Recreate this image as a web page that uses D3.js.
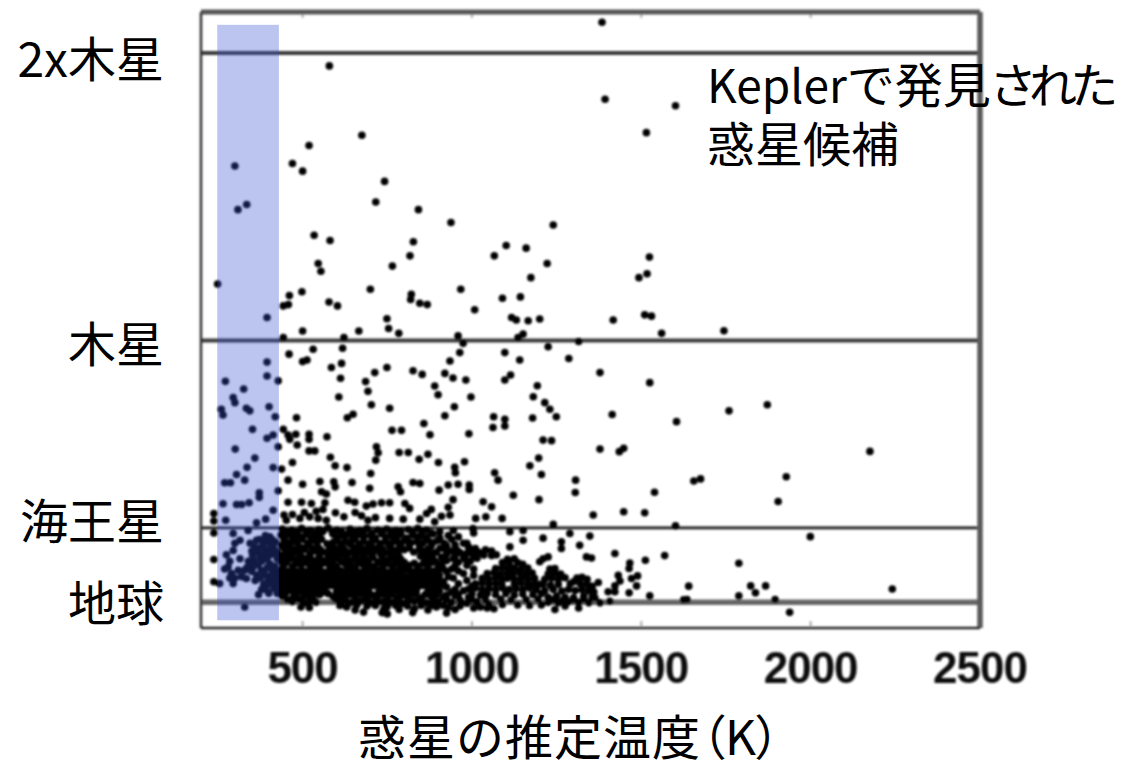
<!DOCTYPE html>
<html>
<head>
<meta charset="utf-8">
<script src="https://cdnjs.cloudflare.com/ajax/libs/d3/7.8.5/d3.min.js"></script>
<style>
html, body {margin: 0; padding: 0; background: #fff;}
svg {display: block;}
.jp {font-family: "Noto Sans CJK JP", sans-serif; font-size: 48px; fill: #000;}
.palt {font-feature-settings: "palt";}
.tick-label {font-family: "Liberation Sans", sans-serif; font-weight: bold; font-size: 44px; letter-spacing: -1px; fill: #111;}
</style>
</head>
<body>
<script>
// x = planet temperature (K), y = planet radius (earth radii)
let xTicks = [500, 1000, 1500, 2000, 2500];
let refLines = [
	{name: "2x木星", r: 22.4, width: 4, color: "#3a3a3a"},
	{name: "木星", r: 11.2, width: 4, color: "#3a3a3a"},
	{name: "海王星", r: 3.9, width: 2.8, color: "#1a1a1a"},
	{name: "地球", r: 1, width: 5.5, color: "#666"}
];
let zoneTemps = [248, 430];
let zoneRadii = [0.3, 23.5];

// the sparse points, read one by one
let sparsePoints = [[579,21.9],[675,19.2],[519,18.8],[470,18.1],[500,17.8],[300,18.0],[335,16.5],[309,16.3],[742,17.4],[716,16.6],[842,16.3],[938,15.8],[1240,15.7],[534,15.3],[581,15.1],[827,15.05],[1101,14.9],[1160,14.8],[1066,14.5],[817,14.5],[765,14.1],[1222,14.2],[546,14.2],[554,13.9],[1174,13.65],[249,13.4],[700,13.2],[967,13.2],[498,13.1],[461,12.95],[821,13.0],[819,12.8],[578,12.7],[603,12.55],[458,12.6],[443,12.55],[846,12.65],[868,12.6],[1090,12.85],[1143,12.9],[1008,12.4],[395,12.1],[749,12.05],[1117,12.1],[1131,12.0],[1166,11.97],[1200,12.04],
	[1384,23.6],[1393,20.6],[1601,20.35],[1515,19.3],[1524,14.45],[1517,13.8],[1493,13.65],[1510,12.2],[1530,12.15],[1417,12.0],
	[1560,11.48],[1744,11.58],[1378,9.95],[1525,9.56],[1414,8.32],[1604,8.04],[1759,8.46],[1872,8.7],[1378,6.97],[1435,6.87],[1448,7.0],[2175,6.88],[1655,5.73],[1675,5.81],[1928,5.89],[1904,4.93],[1539,5.29],[1358,4.4],[1448,4.53],[1510,4.49],[1601,3.98],[1999,3.56],[1348,3.58],[1422,2.9],[1353,2.73],[1512,2.64],[1569,2.82],[1788,2.52],[1466,2.53],[1464,2.32],[1489,2.03],[1471,1.93],[1432,2.05],[1437,1.83],[1373,1.77],[1422,1.64],[1486,1.64],[1640,1.63],[1823,1.64],[1867,1.64],[2241,1.52],[1402,1.41],[1422,1.41],[1464,1.37],[1837,1.37],[1525,1.25],[1788,1.25],[1635,1.11],[1625,1.1],[1895,1.11],[1363,1.18],[1378,0.98],[1407,1.04],[1938,0.61]];

// middle part, between jupiter and the neptune band
let middlePoints = [[500,11.57],[666,11.57],[754,11.67],[784,11.48],[443,11.32],[622,11.32],[959,11.38],[974,11.09],[1151,11.45],[1136,11.32],[1315,11.16],[618,10.9],[531,10.86],[460,10.67],[1225,10.96],[964,10.73],[1097,10.73],[395,10.36],[513,10.44],[500,10.38],[615,10.31],[585,10.15],[1141,10.44],[1286,10.5],[935,10.4],[749,10.15],[713,9.95],[826,10.02],[853,9.88],[920,9.92],[944,9.74],[982,9.66],[395,9.82],[428,9.63],[612,9.73],[1114,9.86],[1097,9.66],[272,9.61],[686,9.6],[890,9.43],[1193,9.44],[326,9.31],[693,9.22],[900,9.09],[295,8.98],[300,8.78],[607,9.0],[997,9.0],[1181,9.01],[703,8.7],[1215,8.78],[401,8.62],[948,8.62],[757,8.56],[1230,8.52],[260,8.52],[265,8.3],[334,8.56],[344,8.46],[419,8.23],[482,8.19],[920,8.27],[649,8.33],[632,8.19],[1249,8.23],[1179,8.18],[1064,8.23],[1097,8.13],[1097,7.87],[1062,7.81],[858,7.97],[352,7.74],[443,7.74],[764,7.7],[792,7.7],[457,7.52],[480,7.55],[519,7.55],[519,7.35],[572,7.45],[876,7.53],[991,7.57],[413,7.52],[395,7.39],[1210,7.32],[1235,7.3],[462,7.35],[484,7.13],[428,7.06],[301,6.97],[718,7.06],[723,6.83],[519,6.9],[536,6.9],[785,6.84],[812,6.84],[870,6.77],[716,6.54],[359,6.62],[582,6.65],[844,6.57],[1197,6.62],[470,6.45],[901,6.45],[978,6.48],[596,6.32],[631,6.25],[949,6.26],[336,6.26],[413,6.25],[438,6.19],[1171,6.32],[951,6.05],[1067,6.05],[701,6.02],[305,5.98],[1205,5.98],[329,5.76],[457,5.76],[1077,5.76],[1306,5.76],[270,5.66],[287,5.66],[500,5.6],[551,5.71],[592,5.7],[596,5.5],[646,5.67],[826,5.67],[846,5.63],[930,5.57],[959,5.6],[992,5.57],[992,5.4],[782,5.5],[698,5.44],[789,5.31],[903,5.37],[428,5.35],[372,5.27],[372,5.09],[556,5.31],[570,5.22],[1305,5.28],[1122,5.17],[944,5.0],[1198,5.0],[457,4.9],[497,4.9],[265,4.84],[305,4.81],[320,4.81],[342,4.88],[526,4.85],[566,4.88],[634,4.98],[654,4.9],[688,4.75],[708,4.83],[733,4.88],[757,4.88],[802,4.85],[1033,4.92],[1058,4.72],[816,4.66],[930,4.7],[413,4.59],[238,4.46],[880,4.62],[866,4.46],[597,4.49],[935,4.4],[846,4.24],[757,4.27],[797,4.24],[674,4.37],[693,4.2],[622,4.33],[1011,4.27],[1041,4.33],[1089,4.27],[273,4.2],[391,4.24],[238,4.17],[364,4.1],[452,4.2],[492,4.27],[521,4.33],[546,4.27],[570,4.2],[890,4.14],[1240,4.04],[445,4.4],[470,4.42],[505,4.5],[540,4.55],[560,4.62],[655,4.5],[715,4.3],[910,4.35]];

// inside the blue habitable zone, low radii
let zonePoints = [[238,3.7],[295,3.68],[315,3.42],[339,3.8],[364,3.42],[393,3.5],[379,3.15],[295,3.02],[315,2.7],[238,2.67],[354,2.7],[369,2.45],[388,2.9],[403,2.5],[280,2.38],[290,2.12],[329,2.25],[334,1.93],[238,1.8],[255,1.73],[295,1.73],[379,1.5],[403,1.73],[329,0.82],[413,2.1],[388,2.1],[359,3.15],[408,3.15],[403,3.55],[413,2.9],[418,2.4],[425,2.95],[420,3.35],[385,3.3],[350,2.2],[365,2.05],[398,1.9],[420,1.8],[428,1.6],[350,3.0],[375,2.75],[398,3.35],[270,2.3],[285,1.95],[345,2.5],[410,2.25],
	[345,3.3],[360,3.0],[372,3.45],[390,3.6],[410,3.45],[352,2.85],[368,2.95],[395,3.05],[415,3.1],[340,2.6],[358,2.55],[380,2.6],[395,2.7],[425,2.7],[405,2.85],[335,2.35],[352,2.35],[378,2.25],[395,2.35],[425,2.15],[360,1.85],[375,1.95],[405,2.0],[425,1.95],[385,1.7],[415,1.55],[392,1.5],[370,1.3],[400,1.35],[425,1.35],[300,3.3],[275,2.85],[285,2.6],[310,2.25],[320,2.0],[300,1.95]];

// the black blob, too dense to read each dot, so an estimate row by row
let denseUpper = [[440,3.86],[468,3.82],[497,3.88],[522,3.8],[548,3.84],[575,3.9],[601,3.82],[640,3.86],[668,3.8],[690,3.88],[722,3.82],[748,3.86],[775,3.8],[812,3.84],[840,3.88],[866,3.82],[905,3.75],[945,3.8],
	[436,3.62],[455,3.68],[482,3.6],[512,3.65],[540,3.6],[590,3.65],[612,3.6],[635,3.68],[662,3.62],[700,3.6],[733,3.66],[760,3.6],[790,3.65],[825,3.62],[850,3.58],[885,3.66],[930,3.6],[960,3.55],[1005,3.7],
	[445,3.42],[470,3.38],[500,3.45],[530,3.4],[556,3.46],[600,3.4],[628,3.35],[655,3.44],[680,3.38],[712,3.42],[745,3.36],[778,3.45],[800,3.4],[838,3.36],[870,3.42],[898,3.4],[918,3.3],[975,3.3],
	[438,3.2],[462,3.25],[488,3.18],[518,3.22],[545,3.15],[585,3.2],[615,3.16],[642,3.24],[670,3.18],[695,3.22],[725,3.15],[755,3.2],[790,3.18],[815,3.24],[845,3.16],[880,3.2],[905,3.1],[955,3.05],[990,3.15],[1010,3.1],
	[450,3.02],[478,2.98],[505,3.05],[535,3.0],[560,2.96],[578,3.05],[605,3.0],[632,2.96],[665,3.04],[690,2.98],[718,3.02],[742,2.95],[770,3.0],[800,3.05],[828,2.96],[860,3.0],[895,2.95],[940,3.0],[985,2.9],[1020,2.95],[1040,3.05],[1058,3.0],[1072,2.85],[1058,2.82],
	[440,2.82],[465,2.78],[492,2.85],[520,2.8],[548,2.76],[575,2.84],[602,2.8],[630,2.76],[655,2.84],[680,2.8],[705,2.85],[735,2.78],[760,2.82],[785,2.76],[848,2.8],[875,2.84],[910,2.76],[950,2.8],[975,2.78],[1005,2.8],
	[1112,3.16],[1151,3.42],[1210,3.5],[1264,3.36],[1264,3.1],[1318,3.22],[1338,2.77],[1112,3.75],[1151,3.8],[1003,3.87],[1289,3.68],[1210,2.7],[1225,2.77],[1200,2.58]];

// second pass over the band, leaves the white holes of the picture open
let bandGaps = [[452,3.74],[485,3.72],[510,3.77],[535,3.7],[560,3.76],[588,3.72],[615,3.75],[655,3.72],[680,3.76],[705,3.7],[735,3.75],[762,3.72],[790,3.77],[825,3.72],[852,3.74],[880,3.7],
	[448,3.52],[470,3.56],[498,3.54],[525,3.5],[550,3.56],[602,3.52],[625,3.55],[648,3.52],[680,3.56],[715,3.5],[745,3.54],[775,3.56],[808,3.5],[838,3.55],[865,3.52],[905,3.5],[940,3.46],
	[455,3.3],[482,3.34],[515,3.3],[543,3.33],[572,3.28],[590,3.34],[612,3.3],[640,3.33],[668,3.28],[700,3.32],[730,3.3],[765,3.34],[785,3.28],[820,3.32],[855,3.3],[885,3.33],[925,3.2],[950,3.24],[985,3.3],
	[445,3.12],[470,3.08],[498,3.12],[528,3.1],[552,3.06],[595,3.1],[622,3.08],[652,3.13],[680,3.07],[708,3.12],[735,3.08],[762,3.1],[782,3.06],[815,3.12],[845,3.06],[872,3.1],[920,3.08],[965,2.94],[1000,3.0],
	[458,2.92],[490,2.94],[522,2.9],[550,2.88],[590,2.92],[620,2.88],[645,2.94],[675,2.9],[700,2.92],[730,2.88],[755,2.92],[782,2.88],[865,2.9],[885,2.92],[925,2.86],[1000,2.92],[1035,2.84],
	[448,2.72],[475,2.7],[500,2.74],[525,2.7],[552,2.68],[580,2.74],[605,2.7],[630,2.68],[658,2.74],[685,2.7],[708,2.74],[738,2.68],[765,2.72],[790,2.68],[860,2.72],[885,2.7],[915,2.68],[945,2.7],[980,2.68],[1015,2.72],
	[450,2.52],[480,2.5],[510,2.54],[535,2.5],[560,2.52],[590,2.48],[620,2.54],[640,2.5],[665,2.52],[695,2.48],[725,2.54],[750,2.5],[775,2.52],[800,2.46],[830,2.52],[855,2.5],[880,2.54],[910,2.48],
	[915,2.32],[940,2.3],[1005,2.3],[975,2.12],[1005,2.05],[945,1.95],[985,1.85],[960,1.72],[1000,1.62],[950,1.5],[975,1.45]];

let denseCore = [[435,2.62],[458,2.66],[485,2.6],[510,2.64],[538,2.58],[565,2.62],[590,2.66],[615,2.6],[645,2.64],[670,2.6],[695,2.62],[722,2.58],[752,2.64],[778,2.6],[800,2.56],[868,2.62],[892,2.58],[925,2.62],[960,2.56],[995,2.6],
	[442,2.44],[470,2.4],[495,2.46],[522,2.42],[550,2.38],[578,2.46],[600,2.4],[630,2.44],[655,2.38],[680,2.44],[710,2.4],[738,2.46],[765,2.42],[790,2.38],[815,2.44],[840,2.4],[870,2.44],[900,2.38],[950,2.42],[985,2.44],
	[436,2.24],[452,2.22],[468,2.26],[484,2.2],[500,2.24],[516,2.2],[532,2.26],[548,2.22],[564,2.18],[580,2.26],[596,2.2],[612,2.24],[628,2.2],[644,2.26],[660,2.22],[676,2.18],[692,2.24],[708,2.2],[724,2.26],[740,2.22],[756,2.18],[772,2.24],[788,2.2],[804,2.25],[820,2.2],[836,2.24],[852,2.2],[868,2.26],[884,2.22],[900,2.18],[925,2.2],[960,2.22],
	[440,2.04],[456,2.0],[472,2.06],[488,2.02],[504,1.98],[520,2.05],[536,2.0],[552,2.04],[568,2.0],[584,2.06],[600,2.02],[616,1.98],[632,2.04],[648,2.0],[664,2.06],[680,2.02],[696,1.98],[712,2.05],[728,2.0],[744,2.04],[760,2.0],[776,2.06],[792,2.02],[808,1.98],[824,2.04],[840,2.0],[856,2.06],[872,2.02],[888,1.98],[904,2.04],[930,2.0],
	[436,1.84],[452,1.8],[468,1.86],[484,1.82],[500,1.78],[516,1.85],[532,1.8],[548,1.84],[564,1.8],[580,1.86],[596,1.82],[612,1.78],[628,1.84],[644,1.8],[660,1.86],[676,1.82],[692,1.78],[708,1.85],[724,1.8],[740,1.84],[756,1.8],[772,1.86],[788,1.82],[804,1.78],[820,1.84],[836,1.8],[852,1.86],[868,1.82],[884,1.78],[900,1.84],[916,1.8],
	[440,1.64],[456,1.6],[472,1.66],[488,1.62],[504,1.58],[520,1.65],[536,1.6],[552,1.64],[568,1.6],[584,1.66],[600,1.62],[616,1.58],[632,1.64],[648,1.6],[664,1.66],[680,1.62],[696,1.58],[712,1.65],[728,1.6],[744,1.64],[760,1.6],[776,1.66],[792,1.62],[808,1.58],[824,1.64],[840,1.6],[856,1.66],[872,1.62],[888,1.58],[904,1.64],[925,1.6],
	[436,1.44],[452,1.4],[468,1.46],[484,1.42],[500,1.38],[516,1.45],[532,1.4],[548,1.44],[564,1.4],[600,1.42],[616,1.38],[632,1.44],[648,1.4],[664,1.46],[680,1.42],[696,1.38],[725,1.4],[740,1.44],[756,1.4],[772,1.46],[788,1.42],[804,1.38],[820,1.44],[836,1.4],[870,1.42],[888,1.38],[904,1.44],[940,1.4]];

let denseLower = [[440,1.24],[472,1.2],[505,1.26],[530,1.2],[590,1.22],[625,1.18],[655,1.25],[690,1.2],[720,1.24],[750,1.18],[785,1.22],[815,1.26],[850,1.18],[880,1.24],[915,1.2],[950,1.26],[990,1.2],
	[470,1.02],[505,0.98],[522,1.04],[540,1.0],[608,1.02],[640,0.98],[670,1.04],[700,0.98],[735,1.02],[760,1.0],[795,0.96],[830,1.04],[865,0.98],[900,1.02],[940,1.0],[985,0.96],[1015,1.02],
	[495,0.82],[520,0.8],[630,0.82],[740,0.75],[785,0.72],[830,0.75],[870,0.7],[895,0.82],[930,0.8],[950,0.72],[1005,0.78],[1025,0.82],[1045,0.78],[655,0.7],[680,0.62],[735,0.6],[750,0.55],[825,0.6],[925,0.58],[1065,0.75],
	// the second hump
	[1105,2.68],[1125,2.7],[1090,2.55],[1110,2.5],[1135,2.55],[1150,2.48],[1070,2.32],[1090,2.36],[1108,2.3],[1125,2.34],[1145,2.28],[1165,2.34],[1045,2.12],[1065,2.16],[1085,2.1],[1105,2.14],[1120,2.1],[1140,2.16],[1160,2.1],[1178,2.14],[1030,1.94],[1050,1.9],[1070,1.96],[1090,1.9],[1105,1.94],[1125,1.9],[1145,1.95],[1165,1.9],[1185,1.94],[1010,1.72],[1030,1.76],[1050,1.7],[1070,1.74],[1088,1.7],[1125,1.72],[1145,1.76],[1165,1.7],[1185,1.74],[1200,1.7],[990,1.52],[1010,1.56],[1030,1.5],[1050,1.54],[1070,1.5],[1090,1.56],[1110,1.5],[1130,1.54],[1150,1.5],[1170,1.56],[1190,1.5],[1000,1.32],[1025,1.28],[1045,1.34],[1070,1.3],[1100,1.34],[1125,1.28],[1150,1.32],[1180,1.3],[1205,1.34],
	// third group, 1200 to 1350 K
	[1230,2.3],[1245,2.32],[1225,2.1],[1245,2.14],[1262,2.1],[1215,1.9],[1235,1.94],[1255,1.9],[1275,1.96],[1210,1.7],[1232,1.66],[1255,1.7],[1290,1.72],[1310,1.95],[1325,1.98],[1340,1.9],[1300,1.8],[1320,1.72],[1340,1.7],[1355,1.62],[1215,1.45],[1240,1.5],[1265,1.44],[1285,1.5],[1305,1.46],[1325,1.5],[1345,1.44],[1360,1.4],[1225,1.2],[1250,1.24],[1275,1.2],[1300,1.18],[1330,1.24],[1355,1.2],[1225,1.0],[1255,0.98],[1285,1.02],[1315,1.0],[1345,0.98],[1245,0.72],[1315,0.78]];

// more dots to close up the bottom of the blob
let denseFill = [[448,1.32],[480,1.3],[515,1.28],[550,1.3],[575,1.34],[610,1.28],[640,1.3],[672,1.32],[705,1.28],[735,1.32],[765,1.3],[798,1.28],[830,1.32],[862,1.3],[895,1.3],[925,1.28],[960,1.3],
	[455,1.1],[490,1.12],[530,1.1],[598,1.12],[620,1.08],[655,1.12],[685,1.1],[718,1.08],[750,1.12],[778,1.1],[812,1.08],[845,1.12],[885,1.1],[925,1.1],[965,1.08],[1000,1.1],[1040,1.1],[1085,1.12],[1115,1.08],[1160,1.1],[1195,1.12],[1240,1.1],[1270,1.08],[1300,1.1],[1330,1.12],
	[610,0.88],[660,0.9],[690,0.86],[715,0.88],[750,0.84],[775,0.88],[810,0.86],[850,0.88],[880,0.88],[915,0.88],[965,0.86],[1050,0.92],[1090,0.92],[1135,0.9],[1170,0.88],[1205,0.9],[1275,0.86]];

// set the dimensions of the plot, in the page's pixels
let margin = {top: 12, left: 201};
let width = 779;
let height = 616;

// set the ranges
let x = d3.scaleLinear().domain([200, 2500]).range([0, width]);
let y = d3.scaleLinear().domain([0, 24]).range([height, 0]);

let svg = d3.select("body").append("svg")
	.attr("width", 1131)
	.attr("height", 762);

// the reference is a blurry screenshot
let blur = svg.append("defs").append("filter")
	.attr("id", "soft")
	.attr("x", "-5%").attr("y", "-5%")
	.attr("width", "110%").attr("height", "110%");
blur.append("feGaussianBlur").attr("stdDeviation", 0.9);

let plot = svg.append("g")
	.attr("transform", "translate(" + margin.left + "," + margin.top + ")");
let soft = plot.append("g").attr("filter", "url(#soft)");

// reference lines, the dots sit on top of them
soft.selectAll(".ref")
	.data(refLines)
	.enter().append("line")
	.attr("class", "ref")
	.attr("x1", 0).attr("x2", width)
	.attr("y1", function(d) {return y(d.r); })
	.attr("y2", function(d) {return y(d.r); })
	.attr("stroke", function(d) {return d.color; })
	.attr("stroke-width", function(d) {return d.width; });

// the dots
let allPoints = sparsePoints.concat(middlePoints, zonePoints, denseUpper, bandGaps, denseCore, denseLower, denseFill);
soft.selectAll("circle")
	.data(allPoints)
	.enter().append("circle")
	.attr("cx", function(d) {return x(d[0]); })
	.attr("cy", function(d) {return y(d[1]); })
	.attr("r", 3.8)
	.attr("fill", "#000");

// tick marks, top and bottom
let tickMarks = xTicks.slice(0, 4);
soft.selectAll(".tb")
	.data(tickMarks)
	.enter().append("line")
	.attr("class", "tb")
	.attr("x1", function(d) {return x(d); })
	.attr("x2", function(d) {return x(d); })
	.attr("y1", height - 7).attr("y2", height)
	.attr("stroke", "#aaa").attr("stroke-width", 2);
soft.selectAll(".tt")
	.data(tickMarks)
	.enter().append("line")
	.attr("class", "tt")
	.attr("x1", function(d) {return x(d); })
	.attr("x2", function(d) {return x(d); })
	.attr("y1", 0).attr("y2", 6)
	.attr("stroke", "#aaa").attr("stroke-width", 2);

// frame
soft.append("line").attr("x1", 0).attr("x2", width).attr("y1", 0).attr("y2", 0)
	.attr("stroke", "#555").attr("stroke-width", 5);
soft.append("line").attr("x1", 0).attr("x2", 0).attr("y1", 0).attr("y2", height)
	.attr("stroke", "#333").attr("stroke-width", 2.5);
soft.append("line").attr("x1", width).attr("x2", width).attr("y1", 0).attr("y2", height)
	.attr("stroke", "#5a5a5a").attr("stroke-width", 5.5);
soft.append("line").attr("x1", 0).attr("x2", width).attr("y1", height).attr("y2", height)
	.attr("stroke", "#222").attr("stroke-width", 2.5);

// the blue band goes over the dots
plot.append("rect")
	.attr("x", x(zoneTemps[0]))
	.attr("width", x(zoneTemps[1]) - x(zoneTemps[0]))
	.attr("y", y(zoneRadii[1]))
	.attr("height", y(zoneRadii[0]) - y(zoneRadii[1]))
	.attr("fill", "rgb(50,80,210)")
	.attr("opacity", 0.33);

// x tick labels
plot.append("g").attr("filter", "url(#soft)")
	.selectAll("text")
	.data(xTicks)
	.enter().append("text")
	.attr("class", "tick-label")
	.attr("x", function(d) {return x(d); })
	.attr("y", height + 55)
	.attr("text-anchor", "middle")
	.text(function(d) {return d; });

// y labels, these were typed over the picture so each sits a bit differently
let labelOffset = {"2x木星": 24, "木星": 21, "海王星": 11.5, "地球": 18.5};
plot.selectAll(".ylab")
	.data(refLines)
	.enter().append("text")
	.attr("class", "jp ylab")
	.attr("x", -37)
	.attr("y", function(d) {return y(d.r) + labelOffset[d.name]; })
	.attr("text-anchor", "end")
	.text(function(d) {return d.name; });

// annotation
let note = svg.append("text").attr("class", "jp").attr("x", 707).attr("y", 103);
note.append("tspan").style("font-size", "46px").text("Kepler");
note.append("tspan").text("で発見");
note.append("tspan").attr("class", "palt").attr("letter-spacing", -5).text("された");
svg.append("text").attr("class", "jp").attr("x", 707).attr("y", 162).text("惑星候補");

// x axis title, the parens in the picture are set tight
let title = svg.append("text").attr("class", "jp").attr("x", 358).attr("y", 755);
title.append("tspan").attr("letter-spacing", 1).text("惑星の推定温度");
title.append("tspan").attr("class", "palt").text("（K）");
</script>
</body>
</html>
